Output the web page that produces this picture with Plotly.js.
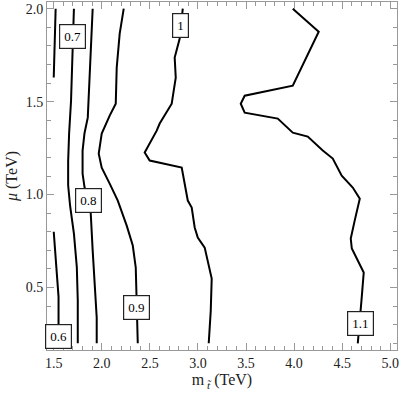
<!DOCTYPE html>
<html>
<head>
<meta charset="utf-8">
<script src="https://cdn.plot.ly/plotly-3.0.1.min.js"></script>
<style>
body {margin: 0; background: white;}
#graph {width: 399px; height: 395px;}
</style>
</head>
<body>
<div id="graph"></div>
<script>
// contour lines, one x/y pair per level
var c06aX = [1.52, 1.51, 1.50];
var c06aY = [2.0, 1.82, 1.63];
var c06bX = [1.50, 1.52, 1.55, 1.55, 1.55];
var c06bY = [0.80, 0.645, 0.45, 0.30, 0.2];
var c07X = [1.71, 1.70, 1.69, 1.68, 1.66, 1.65, 1.65, 1.67, 1.71, 1.74, 1.75, 1.75];
var c07Y = [2.0, 1.79, 1.67, 1.505, 1.33, 1.18, 1.05, 0.94, 0.79, 0.61, 0.43, 0.2];
var c08X = [1.905, 1.885, 1.864, 1.854, 1.82, 1.80, 1.80, 1.82, 1.864, 1.885, 1.905, 1.926, 1.947, 1.947];
var c08Y = [2.0, 1.774, 1.597, 1.414, 1.33, 1.237, 1.113, 1.04, 0.968, 0.898, 0.70, 0.52, 0.339, 0.2];
var c09X = [2.228, 2.186, 2.155, 2.145, 2.082, 1.999, 1.968, 1.999, 2.082, 2.166, 2.259, 2.322, 2.353, 2.363, 2.374];
var c09Y = [2.0, 1.866, 1.683, 1.489, 1.425, 1.328, 1.22, 1.145, 1.059, 0.968, 0.833, 0.726, 0.608, 0.446, 0.2];
var c10X = [2.842, 2.81, 2.758, 2.769, 2.748, 2.727, 2.602, 2.571, 2.446, 2.498, 2.831, 2.862, 2.894, 2.935, 2.966, 2.998, 3.07, 3.143, 3.133, 3.112];
var c10Y = [2.0, 1.839, 1.737, 1.629, 1.559, 1.489, 1.382, 1.344, 1.226, 1.183, 1.145, 1.059, 0.968, 0.93, 0.823, 0.769, 0.715, 0.548, 0.376, 0.2];
var c11X = [3.986, 4.256, 3.986, 3.486, 3.445, 3.486, 3.83, 3.986, 4.142, 4.298, 4.402, 4.495, 4.61, 4.683, 4.63, 4.589, 4.6, 4.662, 4.724, 4.703, 4.662];
var c11Y = [2.0, 1.876, 1.586, 1.532, 1.489, 1.441, 1.409, 1.333, 1.312, 1.237, 1.194, 1.102, 1.038, 0.978, 0.86, 0.763, 0.71, 0.645, 0.581, 0.446, 0.2];

// contour labels
var labelText = ["0.6", "0.7", "0.8", "0.9", "1", "1.1"];
var labelX = [1.55, 1.70, 1.864, 2.363, 2.816, 4.693];
var labelY = [0.236, 1.85, 0.968, 0.392, 1.911, 0.306];

var serif = 'Liberation Serif, Times New Roman, serif';

function line(x, y) {
    return {x: x, y: y, type: 'scatter', mode: 'lines',
        line: {color: 'black', width: 2}, hoverinfo: 'skip'};
}

var data = [line(c06aX, c06aY), line(c06bX, c06bY), line(c07X, c07Y),
    line(c08X, c08Y), line(c09X, c09Y), line(c10X, c10Y), line(c11X, c11Y)];

var notes = [];
for (var i = 0; i < labelText.length; i++) {
    notes.push({
        x: labelX[i], y: labelY[i], text: labelText[i], showarrow: false,
        font: {family: serif, size: 13, color: 'black'},
        bgcolor: 'white', bordercolor: '#222', borderwidth: 1.2, borderpad: 4
    });
}

var axisStyle = {
    showline: true, linecolor: '#999', linewidth: 1, mirror: 'ticks',
    ticks: 'inside', ticklen: 7, tickcolor: '#999', tickwidth: 1,
    showgrid: false, zeroline: false, dtick: 0.5, tickformat: '.1f',
    tickfont: {family: serif, size: 14, color: '#222'},
    ticklabeloverflow: 'allow',
    minor: {ticks: 'inside', ticklen: 4, tickcolor: '#999', dtick: 0.1, showgrid: false}
};

var layout = {
    width: 399, height: 395,
    margin: {l: 47, r: 2, t: 2, b: 45},
    showlegend: false,
    paper_bgcolor: 'white', plot_bgcolor: 'white',
    xaxis: Object.assign({}, axisStyle, {
        range: [1.43, 5.07],
        title: {text: 'm<sub> <i>t\u0303</i></sub> (TeV)', font: {family: serif, size: 16, color: '#222'}, standoff: 4}
    }),
    yaxis: Object.assign({}, axisStyle, {
        range: [0.164, 2.036],
        title: {text: '<i>\u03bc</i> (TeV)', font: {family: serif, size: 16, color: '#222'}, standoff: 4}
    }),
    annotations: notes
};

Plotly.newPlot('graph', data, layout, {staticPlot: true});
</script>
</body>
</html>
